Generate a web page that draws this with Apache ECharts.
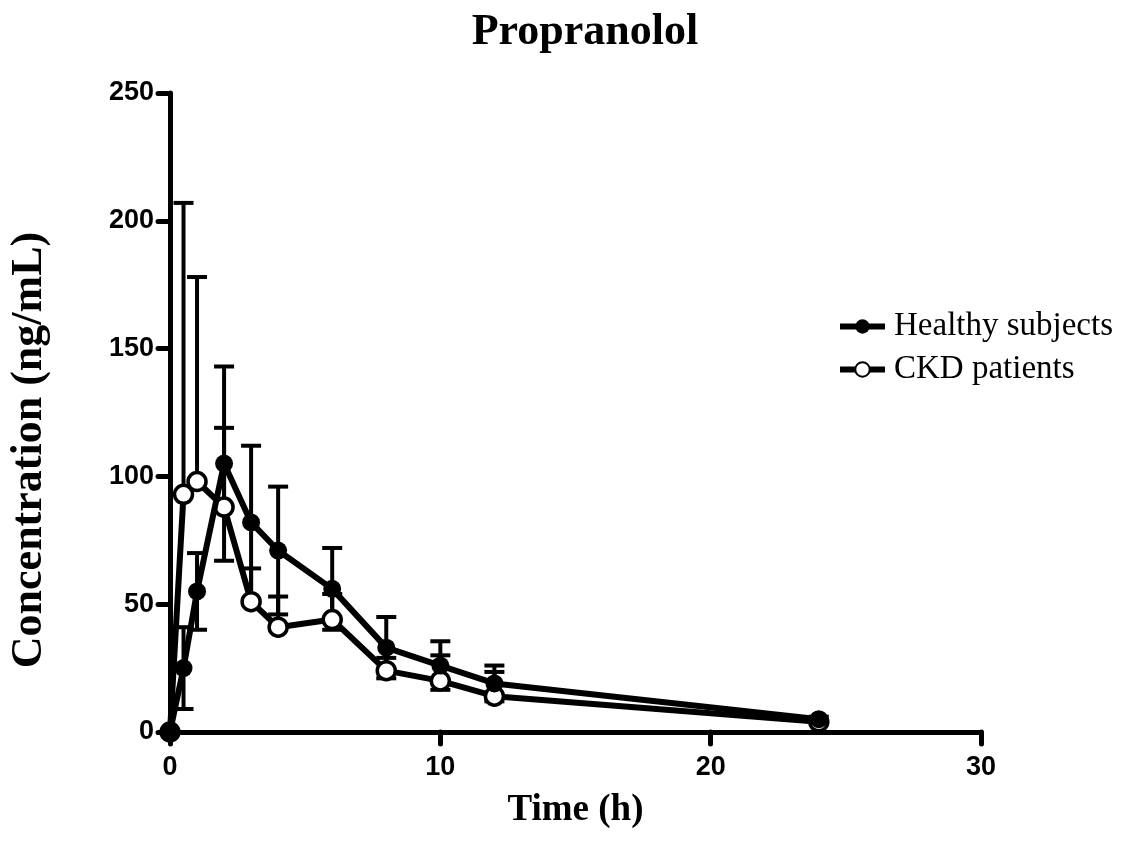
<!DOCTYPE html>
<html>
<head>
<meta charset="utf-8">
<script src="https://cdn.jsdelivr.net/npm/echarts@6/dist/echarts.min.js"></script>
<style>html,body{margin:0;padding:0;background:#fff;}#c{width:1134px;height:846px;}</style>
</head>
<body>
<div id="c"></div>
<script>
var times = [0, 0.5, 1, 2, 3, 4, 6, 8, 10, 12, 24];
var healthyMean = [0, 25, 55, 105, 82, 71, 56, 33, 26, 19, 5];
var healthySD = [0, 16, 15, 38, 30, 25, 16, 12, 9.5, 7, 1];
var ckdMean = [0, 93, 98, 88, 51, 41, 44, 24, 20, 14, 4];
var ckdSD = [0, 114, 80, 31, 13, 12, 10, 5, 10, 9.5, 1];
var xTicks = [0, 10, 20, 30];
var yTicks = [0, 50, 100, 150, 200, 250];

var healthyPts = times.map(function (t, i) { return [t, healthyMean[i]]; });
var ckdPts = times.map(function (t, i) { return [t, ckdMean[i]]; });
var healthyErr = times.map(function (t, i) { return [t, healthyMean[i] - healthySD[i], healthyMean[i] + healthySD[i]]; });
var ckdErr = times.map(function (t, i) { return [t, ckdMean[i], ckdMean[i] + ckdSD[i]]; });

function errRender(params, api) {
  var x = api.value(0);
  var lo = api.coord([x, api.value(1)]);
  var hi = api.coord([x, api.value(2)]);
  if (Math.abs(hi[1] - lo[1]) < 1) return null;
  var hw = 10;
  var st = { stroke: '#000', lineWidth: 4 };
  return {
    type: 'group',
    children: [
      { type: 'line', shape: { x1: lo[0], y1: lo[1], x2: hi[0], y2: hi[1] }, style: st },
      { type: 'line', shape: { x1: hi[0] - hw, y1: hi[1], x2: hi[0] + hw, y2: hi[1] }, style: st },
      { type: 'line', shape: { x1: lo[0] - hw, y1: lo[1], x2: lo[0] + hw, y2: lo[1] }, style: st }
    ]
  };
}

var chart = echarts.init(document.getElementById('c'));
var serif = 'Liberation Serif, Times New Roman, serif';
var tickFont = { fontFamily: 'Liberation Sans, Arial, sans-serif', fontWeight: 'bold', fontSize: 27, color: '#000' };
chart.setOption({
  animation: false,
  backgroundColor: '#fff',
  title: {
    text: 'Propranolol',
    left: 580, top: 6, textAlign: 'center',
    textStyle: { fontFamily: serif, fontWeight: 'bold', fontSize: 44, color: '#000' }
  },
  graphic: [{
    type: 'text', x: 30, y: 450, rotation: Math.PI / 2,
    style: { text: 'Concentration (ng/mL)', fontFamily: serif, fontWeight: 'bold', fontSize: 44, fill: '#000', align: 'center', verticalAlign: 'middle' }
  }],
  legend: {
    data: ['Healthy subjects', 'CKD patients'],
    orient: 'vertical',
    left: 832, top: 305,
    itemWidth: 45, itemHeight: 18, itemGap: 10,
    lineStyle: { width: 6, color: '#000' },
    textStyle: { fontFamily: serif, fontSize: 33, color: '#000', padding: [0, 0, 0, 4] }
  },
  grid: { left: 170, right: 153, top: 93, bottom: 114 },
  xAxis: {
    type: 'value', min: 0, max: 30, interval: 10,
    name: 'Time (h)', nameLocation: 'middle', nameGap: 60,
    nameTextStyle: { fontFamily: serif, fontWeight: 'bold', fontSize: 37, color: '#000' },
    axisLine: { show: true, onZero: false, lineStyle: { color: '#000', width: 5, cap: 'round' } },
    axisTick: { show: true, length: 12, lineStyle: { color: '#000', width: 5, cap: 'round' } },
    axisLabel: Object.assign({ margin: 22, formatter: function (v) { return xTicks.indexOf(v) >= 0 ? String(v) : ''; } }, tickFont),
    splitLine: { show: false }
  },
  yAxis: {
    type: 'value', min: 0, max: 250, interval: 50,
    axisLine: { show: true, onZero: false, lineStyle: { color: '#000', width: 5, cap: 'round' } },
    axisTick: { show: true, length: 12, lineStyle: { color: '#000', width: 5, cap: 'round' } },
    axisLabel: Object.assign({ margin: 16, formatter: function (v) { return yTicks.indexOf(v) >= 0 ? String(v) : ''; } }, tickFont),
    splitLine: { show: false }
  },
  series: [
    { type: 'custom', name: 'hErr', renderItem: errRender, data: healthyErr, encode: { x: 0, y: [1, 2] }, z: 1, silent: true },
    { type: 'custom', name: 'cErr', renderItem: errRender, data: ckdErr, encode: { x: 0, y: [1, 2] }, z: 1, silent: true },
    {
      type: 'line', name: 'CKD patients', data: ckdPts, z: 3,
      symbol: 'circle', symbolSize: 18, showAllSymbol: true,
      lineStyle: { color: '#000', width: 6 },
      itemStyle: { color: '#fff', borderColor: '#000', borderWidth: 3.5 }
    },
    {
      type: 'line', name: 'Healthy subjects', data: healthyPts, z: 4,
      symbol: 'circle', symbolSize: 18, showAllSymbol: true,
      lineStyle: { color: '#000', width: 6 },
      itemStyle: { color: '#000', borderColor: '#000', borderWidth: 0 }
    }
  ]
});
</script>
</body>
</html>
